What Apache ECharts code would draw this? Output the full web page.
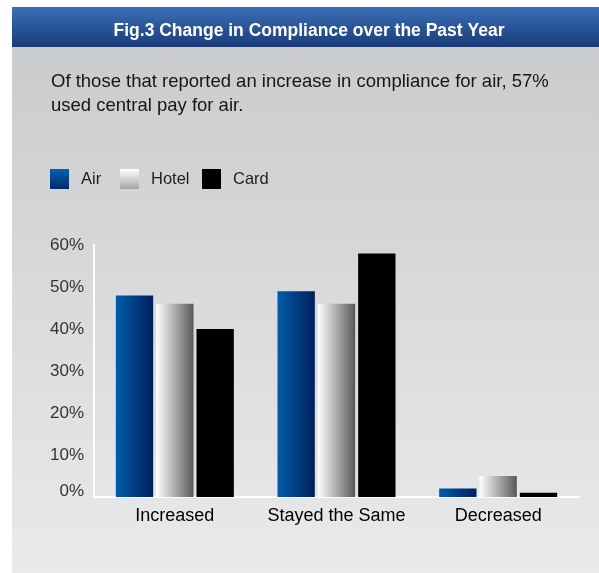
<!DOCTYPE html>
<html>
<head>
<meta charset="utf-8">
<script src="https://cdn.jsdelivr.net/npm/echarts@6/dist/echarts.min.js"></script>
<style>
  html, body { margin: 0; padding: 0; background: #ffffff; }
  #chart { width: 599px; height: 573px; }
</style>
</head>
<body>
<div id="chart"></div>
<script>
// Survey categories and the share of respondents per travel spend type
const categories = ['Increased', 'Stayed the Same', 'Decreased'];
const airValues = [48, 49, 2];
const hotelValues = [46, 46, 5];
const cardValues = [40, 58, 1];
const yTicks = [0, 10, 20, 30, 40, 50, 60];

const FONT = '"Liberation Sans", Arial, Helvetica, sans-serif';

const lin = (x, y, x2, y2, a, b) => ({
  type: 'linear', x, y, x2, y2,
  colorStops: [{ offset: 0, color: a }, { offset: 1, color: b }]
});

const airBar = lin(0, 0, 1, 0, '#005cab', '#00205b');
const hotelBar = lin(0, 0, 1, 0, '#ffffff', '#58585b');
const airIcon = lin(0, 0, 0, 1, '#0062b2', '#002a6c');
const hotelIcon = lin(0, 0, 0, 1, '#ffffff', '#a4a5a8');

// one legend block per series so each key sits at its own spot
const legendBlock = (name, color, left) => ({
  left, top: 169, padding: 0,
  itemWidth: 19, itemHeight: 20,
  icon: 'rect',
  textStyle: { color: '#1e1e1e', fontSize: 16.5, fontFamily: FONT, padding: [4, 0, 0, 7] },
  data: [{ name, itemStyle: { color } }]
});

const chart = echarts.init(document.getElementById('chart'), null, { renderer: 'canvas' });

chart.setOption({
  animation: false,
  backgroundColor: '#ffffff',
  graphic: [
    {
      type: 'rect', z: -10, silent: true,
      shape: { x: 12, y: 7, width: 587, height: 566 },
      style: { fill: lin(0, 0, 0, 1, '#c8c9cb', '#e9eaeb') }
    },
    {
      type: 'rect', z: -9, silent: true,
      shape: { x: 12, y: 7, width: 587, height: 40 },
      style: { fill: lin(0, 0, 0, 1, '#3b6fb8', '#1a3c78') }
    }
  ],
  title: [
    {
      text: 'Fig.3 Change in Compliance over the Past Year',
      left: 304, top: 17, textAlign: 'center',
      textStyle: { color: '#ffffff', fontSize: 17.5, fontWeight: 'bold', fontFamily: FONT }
    },
    {
      text: 'Of those that reported an increase in compliance for air, 57%\nused central pay for air.',
      left: 46, top: 65,
      textStyle: { color: '#161616', fontSize: 18.5, fontWeight: 'normal', lineHeight: 24, fontFamily: FONT }
    }
  ],
  legend: [
    legendBlock('Air', airIcon, 50),
    legendBlock('Hotel', hotelIcon, 120),
    legendBlock('Card', '#000000', 202)
  ],
  grid: { left: 94, right: 20, top: 245, bottom: 76, containLabel: false },
  xAxis: {
    type: 'category',
    data: categories,
    axisLine: { show: true, lineStyle: { color: '#ffffff', width: 2 } },
    axisTick: { show: false },
    axisLabel: { color: '#000000', fontSize: 18, fontFamily: FONT, margin: 10, interval: 0, hideOverlap: false }
  },
  yAxis: {
    type: 'value',
    min: yTicks[0], max: yTicks[yTicks.length - 1], interval: 10,
    axisLine: { show: true, lineStyle: { color: '#ffffff', width: 2 } },
    axisTick: { show: false },
    splitLine: { show: false },
    axisLabel: {
      color: '#333333', fontSize: 17, fontFamily: FONT, margin: 10,
      formatter: v => (v === 0 ? '{z|' + v + '%}' : v + '%'),
      rich: { z: { color: '#333333', fontSize: 17, fontFamily: FONT, padding: [0, 0, 12, 0] } }
    }
  },
  series: [
    { name: 'Air', type: 'bar', data: airValues, itemStyle: { color: airBar }, barGap: '8%', barCategoryGap: '27%' },
    { name: 'Hotel', type: 'bar', data: hotelValues, itemStyle: { color: hotelBar } },
    { name: 'Card', type: 'bar', data: cardValues, itemStyle: { color: '#000000' } }
  ]
});
</script>
</body>
</html>
